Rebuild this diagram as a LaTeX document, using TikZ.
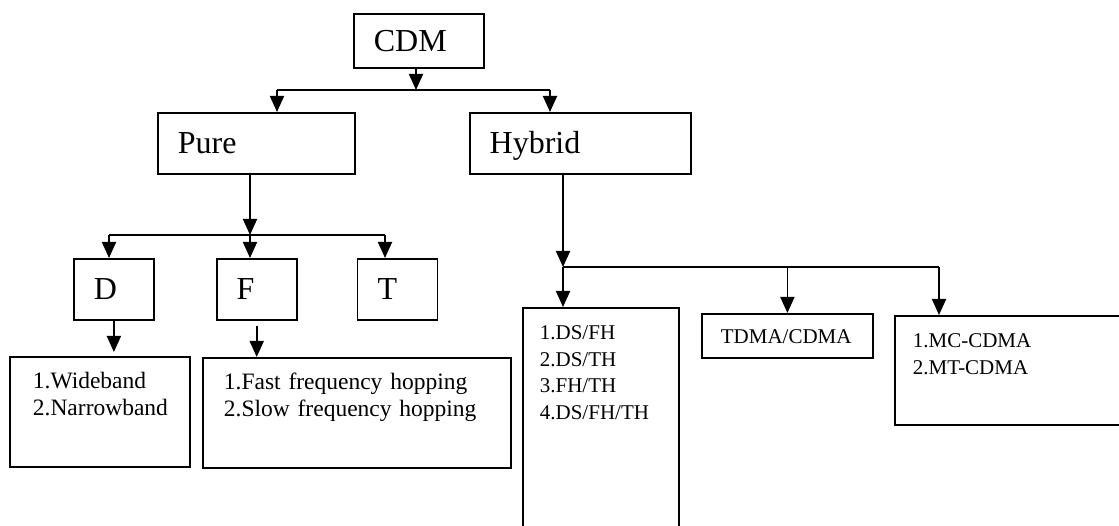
\documentclass[tikz,border=0pt]{standalone}
\usepackage{fontspec}
\setmainfont{Liberation Serif}
\usetikzlibrary{arrows.meta, positioning}

\begin{document}
\begin{tikzpicture}[x=1pt, y=-1pt,
      box/.style={draw, line width=1.8pt, align=left, inner xsep=20pt, inner ysep=0pt,
                  text height=21pt, text depth=0pt, font=\fontsize{32}{38}\selectfont},
      listbox/.style={draw, line width=1.8pt, align=left, inner ysep=0pt, anchor=north west,
                  text height=32pt, font=\fontsize{21}{26.5}\selectfont},
      wordfont/.style={font=\fontsize{23.5}{26.5}\selectfont},
      arr/.style={-{Triangle[length=16pt, width=14pt]}, line width=1.8pt},
      bus/.style={line width=1.8pt}
    ]
      \useasboundingbox (0,0) rectangle (1119,526);
      \clip (0,0) rectangle (1119,526);
      % top levels
      \node[box, text width=90pt, minimum height=54pt, anchor=north west] (cdm) at (353,13) {CDM};
      \node[box, text width=157pt, minimum height=61pt, anchor=north west] (pure) at (157,112) {Pure};
      \node[box, text width=181pt, minimum height=61pt, right=113pt of pure] (hybrid) {Hybrid};
      % pure branch
      \node[box, text width=40pt, minimum height=61pt, anchor=north west] (d) at (73,258) {D};
      \node[box, text width=40pt, minimum height=61pt, right=61pt of d] (f) {F};
      \node[box, text width=40pt, minimum height=61pt, right=59pt of f] (t) {T};
      \node[listbox, wordfont, inner xsep=23pt, text width=134pt, text depth=78pt] (wide) at (9,356) {1.Wideband\\2.Narrowband};
      \node[listbox, wordfont, inner xsep=21pt, text width=266pt, text depth=78pt] (hop) at (202,357) {1.Fast frequency hopping\\2.Slow frequency hopping};
      % hybrid branch
      \node[listbox, inner xsep=17pt, text width=122pt, text depth=208pt] (dsfh) at (522,307) {1.DS/FH\\2.DS/TH\\3.FH/TH\\4.DS/FH/TH};
      \node[box, font=\fontsize{21}{26.5}\selectfont, inner xsep=19pt, text width=133pt,
            text height=15pt, minimum height=44pt, anchor=north west] (tdma) at (701,313) {TDMA/CDMA};
      \node[listbox, inner xsep=18pt, text width=204pt, text depth=77pt] (mc) at (894,315) {1.MC-CDMA\\2.MT-CDMA};

      % connectors
      \coordinate (topbus) at (416,90);
      \coordinate (busL) at (277,90);
      \coordinate (busR) at (550,90);
      \draw[arr] (cdm.south -| topbus) -- (topbus);
      \draw[bus] (busL) -- (busR);
      \draw[arr] (busL) -- (busL |- pure.north);
      \draw[arr] (busR) -- (busR |- hybrid.north);

      \coordinate (purebus) at (250,235);
      \coordinate (dbus) at (109,235);
      \coordinate (tbus) at (385,235);
      \draw[arr] (pure.south -| purebus) -- (purebus);
      \draw[bus] (dbus) -- (tbus);
      \draw[arr] (dbus) -- (dbus |- d.north);
      \draw[arr] (purebus) -- (purebus |- f.north);
      \draw[arr] (tbus) -- (tbus |- t.north);
      \draw[arr, shorten >=4pt] (d.south) -- (d.south |- wide.north);
      \draw[arr, shorten <=5pt] (f.south) -- (f.south |- hop.north);

      \coordinate (hybus) at (563,267);
      \coordinate (mcbus) at (939,267);
      \draw[arr] (hybrid.south -| hybus) -- (hybus);
      \draw[bus] (hybus) -- (mcbus);
      \draw[arr] (hybus) -- (hybus |- dsfh.north);
      \draw[arr] (hybus -| tdma) -- (tdma.north);
      \draw[arr] (mcbus) -- (mcbus |- mc.north);
    \end{tikzpicture}
\end{document}
